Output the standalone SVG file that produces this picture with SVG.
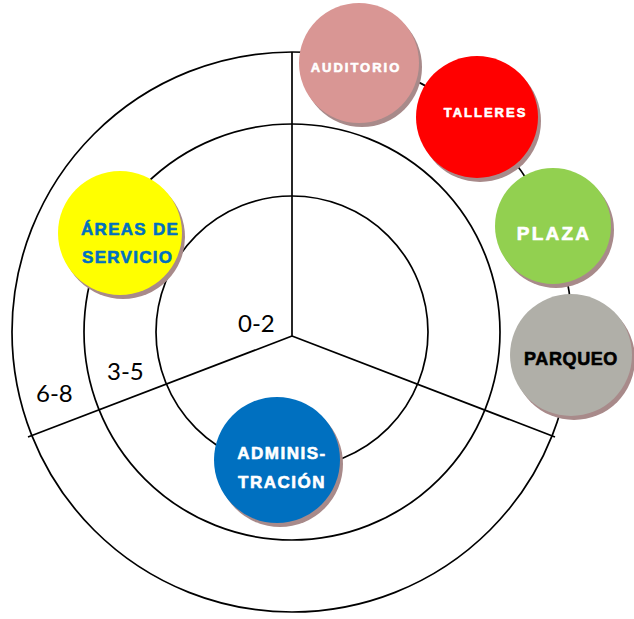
<svg xmlns="http://www.w3.org/2000/svg" width="634" height="619" viewBox="0 0 634 619">
<style>
.ring{fill:none;stroke:#000;stroke-width:1.7}
.div{fill:none;stroke:#000;stroke-width:1.7}
.shadow{fill:#a88a8a}
.lbl{font-family:Lato,"Liberation Sans",sans-serif;font-size:24px;fill:#000}
.nt{font-family:"Liberation Sans",Arial,sans-serif;font-weight:bold;stroke-width:0.6;stroke-linejoin:round}
</style>
<rect width="634" height="619" fill="#fff"/>
<g id="connectors">
<circle class="ring" cx="292" cy="332" r="280"/>
<circle class="ring" cx="292" cy="332" r="208"/>
<circle class="ring" cx="292" cy="332" r="136"/>
<line class="div" x1="292" y1="52" x2="292" y2="336"/>
<line class="div" x1="292" y1="336" x2="28" y2="437"/>
<line class="div" x1="292" y1="336" x2="555" y2="437"/>
</g>
<g id="labels">
<text class="lbl" x="238" y="332">0-2</text>
<text class="lbl" x="107" y="380">3-5</text>
<text class="lbl" x="36" y="402">6-8</text>
</g>
<g id="auditorio">
<circle class="shadow" cx="362" cy="67" r="60"/>
<circle cx="359" cy="63" r="60" fill="#d99694"/>
<text class="nt" x="356" y="72" font-size="13" letter-spacing="2" fill="#fff" stroke="#fff" text-anchor="middle">AUDITORIO</text>
</g>
<g id="talleres">
<circle class="shadow" cx="480" cy="121" r="61"/>
<circle cx="477" cy="117" r="61" fill="#ff0000"/>
<text class="nt" x="485.5" y="117" font-size="13" letter-spacing="2" fill="#fff" stroke="#fff" text-anchor="middle">TALLERES</text>
</g>
<g id="plaza">
<circle class="shadow" cx="556" cy="230" r="58"/>
<circle cx="553" cy="226" r="58" fill="#92d050"/>
<text class="nt" x="554" y="240" font-size="19" letter-spacing="2.2" fill="#fff" stroke="#fff" text-anchor="middle">PLAZA</text>
</g>
<g id="parqueo">
<circle class="shadow" cx="574" cy="359" r="61"/>
<circle cx="571" cy="355" r="61" fill="#b0afa8"/>
<text class="nt" x="571" y="365" font-size="18" letter-spacing="0.6" fill="#000" stroke="#000" text-anchor="middle">PARQUEO</text>
</g>
<g id="areas-de-servicio">
<circle class="shadow" cx="123" cy="237" r="62"/>
<circle cx="120" cy="233" r="62" fill="#ffff00"/>
<text class="nt" font-size="17" letter-spacing="1.3" fill="#0070c0" stroke="#0070c0"><tspan x="81" y="235">ÁREAS DE</tspan><tspan x="82" y="263">SERVICIO</tspan></text>
</g>
<g id="administracion">
<circle class="shadow" cx="280" cy="464" r="63"/>
<circle cx="277" cy="460" r="63" fill="#0070c0"/>
<text class="nt" font-size="17" letter-spacing="1.5" fill="#fff" stroke="#fff" text-anchor="middle"><tspan x="282" y="459">ADMINIS-</tspan><tspan x="282" y="488">TRACIÓN</tspan></text>
</g>
</svg>
